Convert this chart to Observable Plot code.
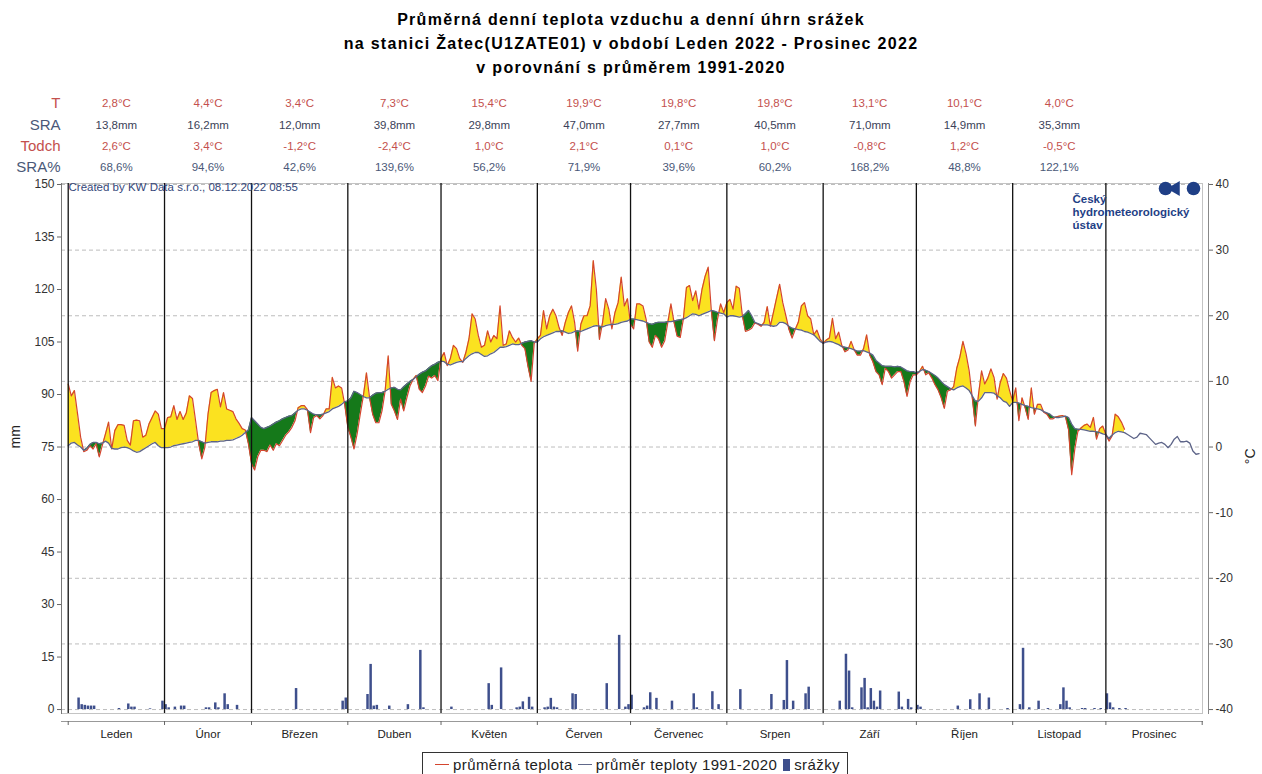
<!DOCTYPE html>
<html>
<head>
<meta charset="utf-8">
<script src="https://cdn.jsdelivr.net/npm/d3@7"></script>
<script src="https://cdn.jsdelivr.net/npm/@observablehq/plot@0.6"></script>
<style>
  body { margin: 0; background: #fff; font-family: "Liberation Sans", Arial, sans-serif; }
  #wrap { position: relative; width: 1262px; height: 774px; overflow: hidden; background: #fff; }
  #title { height: 86px; box-sizing: border-box; padding-top: 8px; text-align: center; font-weight: bold; font-size: 16px; line-height: 24px; letter-spacing: 1.3px; color: #000; }
  #legend { position: absolute; left: 422px; top: 752px; width: 426px; height: 25px; border: 1px solid #333; box-sizing: border-box; display: flex; align-items: center; justify-content: center; font-size: 15px; letter-spacing: 0.4px; color: #222; background: #fff; white-space: nowrap; }
  #legend .ln { display: inline-block; width: 14px; height: 1.5px; margin: 0 4px 0 5px; }
  #legend .sq { display: inline-block; width: 7px; height: 12px; background: #3e4f8c; margin: 0 4px 0 6px; }
  g[aria-label="month-names"] text { letter-spacing: 1.4px; }
  g[aria-label="stat-values"] text { letter-spacing: 0.9px; }
  g[aria-label="row-labels"] text { letter-spacing: 0.5px; }
  g[aria-label="credit"] text { letter-spacing: 0.9px; }
  g[aria-label="logo-text"] text { letter-spacing: 0.4px; }
</style>
</head>
<body>
<div id="wrap">
  <div id="title">Průměrná denní teplota vzduchu a denní úhrn srážek<br>na stanici Žatec(U1ZATE01) v období Leden 2022 - Prosinec 2022<br>v porovnání s průměrem 1991-2020</div>
  <div id="chart"></div>
  <div id="legend"><span class="ln" style="background:#d4452e"></span><span>průměrná teplota</span><span class="ln" style="background:#60688a"></span><span>průměr teploty 1991-2020</span><span class="sq"></span><span>srážky</span></div>
</div>
<script>
// ---------- data ----------
const months = ["Leden","Únor","Březen","Duben","Květen","Červen","Červenec","Srpen","Září","Říjen","Listopad","Prosinec"];
const monthDays = [31,28,31,30,31,30,31,31,30,31,30,31];

const rowLabels = ["T","SRA","Todch","SRA%"];
const statT     = ["2,8°C","4,4°C","3,4°C","7,3°C","15,4°C","19,9°C","19,8°C","19,8°C","13,1°C","10,1°C","4,0°C",""];
const statSRA   = ["13,8mm","16,2mm","12,0mm","39,8mm","29,8mm","47,0mm","27,7mm","40,5mm","71,0mm","14,9mm","35,3mm",""];
const statTodch = ["2,6°C","3,4°C","-1,2°C","-2,4°C","1,0°C","2,1°C","0,1°C","1,0°C","-0,8°C","1,2°C","-0,5°C",""];
const statSRAp  = ["68,6%","94,6%","42,6%","139,6%","56,2%","71,9%","39,6%","60,2%","168,2%","48,8%","122,1%",""];

// daily mean temperature 2022 (°C)
const tJan = [9.6,7.8,8.6,5.1,1.5,-0.7,-0.5,0.2,-0.3,0.5,-1.5,0.3,2.0,3.8,-0.3,2.5,3.4,3.4,3.3,1.0,0.3,4.0,4.1,4.0,1.5,1.8,3.5,4.5,5.5,5.0,2.8];
const tFeb = [2.8,4.5,4.6,6.3,4.2,5.4,4.2,5.2,7.8,7.4,4.0,0.5,-1.8,0.0,5.0,8.3,8.6,8.8,6.1,8.3,5.8,5.6,5.4,4.3,3.6,2.8,2.6,0.5];
const tMar = [-2.5,-3.5,-1.5,-0.5,-0.5,-0.7,0.3,-0.5,0.5,0.2,1.0,1.8,2.3,3.0,4.0,6.0,6.3,6.3,5.7,2.2,4.5,4.8,4.3,4.8,5.8,5.8,10.6,9.0,9.3,9.0,6.5];
const tApr = [3.0,1.5,-0.3,2.0,5.0,7.8,11.3,7.5,5.0,3.7,3.7,5.5,8.5,13.9,6.5,5.5,4.2,7.3,5.5,7.5,9.3,10.3,10.9,8.8,8.3,9.3,10.8,10.5,10.9,10.1];
const tMay = [13.5,14.4,12.4,13.5,15.5,15.0,13.5,12.9,14.4,16.5,20.3,19.5,17.0,15.2,15.5,17.7,16.0,17.0,16.5,21.5,15.5,15.7,17.7,16.7,16.0,16.6,15.5,15.0,12.3,10.0,15.8];
const tJun = [16.5,17.0,20.8,18.0,20.0,21.0,20.0,18.2,17.0,19.0,20.5,21.5,19.0,14.6,18.7,20.0,20.0,21.5,28.4,24.0,16.4,19.0,22.6,21.0,18.0,20.5,22.0,25.9,21.5,22.6];
const tJul = [18.7,18.0,21.8,21.8,21.5,19.5,16.0,15.2,17.0,16.5,15.2,16.2,19.0,21.8,19.0,16.9,16.7,19.5,24.3,24.6,22.3,23.8,21.0,24.0,26.0,27.4,20.8,16.2,19.5,21.8,20.5];
const tAug = [22.0,22.5,21.0,24.5,24.2,20.0,17.6,17.8,18.1,18.9,18.7,18.4,19.0,21.4,18.4,20.5,22.7,24.8,22.0,20.0,17.9,16.6,17.9,19.0,21.5,22.0,20.0,19.5,17.1,17.8,16.5];
const tSep = [15.8,16.3,16.6,19.6,16.5,17.5,15.5,14.5,14.8,16.1,14.8,14.0,14.0,15.0,17.1,14.0,13.0,11.5,11.0,9.5,12.0,11.5,10.5,11.0,11.5,11.5,10.0,7.7,10.0,11.0];
const tOct = [11.0,11.5,12.3,11.0,11.3,10.5,9.5,8.7,7.5,5.9,8.5,8.7,9.2,12.0,13.7,16.1,14.2,11.6,7.5,3.2,8.0,11.6,9.6,10.5,11.9,10.6,7.3,9.8,11.2,10.5,8.6];
const tNov = [7.0,9.0,4.0,7.5,6.0,4.2,9.0,5.0,6.5,6.5,5.3,5.0,4.3,4.3,4.6,4.7,4.8,4.6,2.6,-4.2,-0.3,2.4,2.9,3.3,3.5,3.0,4.5,1.2,2.8,3.2];
const tDec = [1.9,0.9,1.7,5.0,4.6,3.8,2.7];

// daily normal temperature 1991-2020 (°C)
const nJan = [0.2,0.6,0.7,0.3,0.0,-0.5,-0.2,0.4,0.7,0.7,0.5,0.6,0.9,0.6,-0.2,-0.3,-0.3,-0.1,0.0,-0.1,-0.3,-0.6,-0.8,-0.7,-0.4,-0.1,0.2,0.5,0.7,0.2,-0.1];
const nFeb = [-0.1,-0.1,0.0,0.2,0.3,0.4,0.5,0.6,0.7,0.8,1.0,1.0,0.8,0.6,0.7,0.8,0.8,0.8,0.9,0.9,1.0,1.0,1.1,1.3,1.5,1.8,2.2,2.6];
const nMar = [4.5,4.0,3.5,3.0,2.8,3.0,3.2,3.5,3.8,4.0,4.3,4.5,4.7,4.8,5.2,5.6,5.8,5.8,5.6,5.3,5.0,4.9,4.9,5.0,5.2,5.4,5.8,6.0,6.2,6.5,6.9];
const nApr = [7.0,7.5,8.5,8.3,8.0,7.7,7.5,7.5,7.9,8.2,8.3,8.3,8.5,8.8,9.0,9.1,8.8,8.7,9.2,9.6,10.0,10.3,10.7,11.1,11.4,11.6,12.0,12.4,12.6,12.9];
const nMay = [13.1,13.0,12.6,12.5,12.7,12.9,13.0,13.0,13.5,13.9,14.2,14.4,14.4,14.1,13.8,13.9,14.2,14.4,14.8,15.2,15.2,15.3,15.5,15.7,15.6,15.6,15.8,16.0,16.1,16.2,16.0];
const nJun = [16.0,16.5,16.8,17.0,17.2,17.4,17.6,17.6,17.7,17.5,17.3,17.4,17.6,17.7,17.6,17.8,18.0,18.2,18.4,18.5,18.4,18.3,18.5,18.6,18.7,18.7,18.8,19.0,19.1,19.2];
const nJul = [19.5,19.5,19.4,19.3,19.2,19.0,18.8,18.7,18.9,19.0,19.0,19.0,19.1,19.1,19.2,19.3,19.4,19.5,19.7,20.0,20.3,20.2,20.0,20.2,20.4,20.6,20.8,20.7,20.5,20.4,20.3];
const nAug = [19.8,20.0,20.0,19.9,19.8,19.9,20.3,20.8,20.0,19.0,18.8,18.6,18.6,18.6,18.5,18.4,18.5,19.0,19.0,18.8,18.4,18.1,18.0,17.9,17.8,17.6,17.5,17.3,17.1,16.6,16.1];
const nSep = [15.8,16.0,16.1,16.0,15.8,15.6,15.3,15.2,15.1,15.0,14.8,14.6,14.6,14.7,14.5,14.3,14.0,13.2,12.8,12.4,12.3,12.3,12.3,12.2,12.3,12.2,11.9,11.6,11.5,11.5];
const nOct = [11.3,11.5,11.8,11.7,11.5,11.2,10.9,10.5,10.0,9.5,9.2,8.9,8.7,9.0,9.2,9.3,9.0,8.6,7.8,7.0,7.0,7.5,8.3,8.3,8.3,8.2,7.8,7.5,7.0,6.8,6.2];
const nNov = [6.8,6.8,6.7,6.5,6.3,6.2,6.0,5.9,5.8,5.7,5.4,5.2,5.0,4.6,4.5,4.5,4.6,4.7,4.5,3.5,2.8,2.7,2.7,2.6,2.5,2.4,2.4,2.3,2.2,2.0];
const nDec = [1.9,1.3,1.8,2.2,2.4,2.3,2.2,1.9,1.6,1.3,1.5,2.1,2.0,1.9,1.4,0.9,0.4,0.6,0.7,0.4,-0.1,0.4,1.2,1.6,0.8,0.8,0.9,0.6,-0.6,-1.1,-1.0];

// daily precipitation (month, day, mm)
const rain = [
  [1,4,3.3],[1,5,1.4],[1,6,1.2],[1,7,1.0],[1,8,1.0],[1,9,1.0],[1,17,0.3],[1,20,1.6],[1,21,0.7],[1,22,0.7],[1,27,0.2],[1,31,2.4],
  [2,1,1.4],[2,2,0.5],[2,4,0.7],[2,6,1.0],[2,7,1.0],[2,14,0.5],[2,15,0.5],[2,17,1.9],[2,18,0.5],[2,20,4.5],[2,21,1.4],[2,24,1.2],
  [3,15,6.0],[3,30,2.4],[3,31,3.3],
  [4,7,4.3],[4,8,12.9],[4,9,1.0],[4,10,1.2],[4,14,1.0],[4,20,1.4],[4,24,16.9],[4,25,0.5],
  [5,4,0.7],[5,16,7.4],[5,17,1.2],[5,20,11.9],[5,25,0.5],[5,26,0.7],[5,27,2.2],[5,29,3.5],[5,30,0.7],
  [6,3,0.5],[6,4,0.7],[6,5,3.2],[6,6,0.7],[6,7,0.5],[6,12,4.5],[6,13,4.3],[6,23,7.4],[6,27,21.2],[6,29,0.7],[6,30,1.4],
  [7,1,4.1],[7,5,0.5],[7,6,1.0],[7,7,4.8],[7,9,3.2],[7,14,2.4],[7,21,4.5],[7,22,0.5],[7,27,5.1],[7,29,1.4],
  [8,5,5.7],[8,15,4.3],[8,19,2.6],[8,20,14.0],[8,22,2.4],[8,26,4.5],[8,27,6.4],
  [9,6,2.4],[9,8,15.8],[9,9,11.0],[9,10,0.5],[9,13,6.2],[9,14,8.9],[9,15,0.5],[9,16,6.0],[9,17,2.4],[9,18,0.7],[9,19,5.3],[9,25,5.0],[9,26,0.7],[9,28,2.9],[9,29,0.5],
  [10,1,1.2],[10,2,0.7],[10,14,1.0],[10,18,2.8],[10,21,4.5],[10,24,3.3],[10,30,0.3],
  [11,3,1.4],[11,4,17.5],[11,6,0.5],[11,9,2.4],[11,12,0.3],[11,16,1.4],[11,17,6.2],[11,18,2.4],[11,19,0.5],[11,23,0.3],[11,24,0.3],[11,27,0.3],[11,29,0.3],
  [12,1,4.5],[12,2,1.9],[12,3,0.5],[12,5,0.3],[12,7,0.3]
];

const mmTicks = [0,15,30,45,60,75,90,105,120,135,150];
const tempTicks = [-40,-30,-20,-10,0,10,20,30,40];

// ---------- derived ----------
const actualByMonth = [tJan,tFeb,tMar,tApr,tMay,tJun,tJul,tAug,tSep,tOct,tNov,tDec];
const normalByMonth = [nJan,nFeb,nMar,nApr,nMay,nJun,nJul,nAug,nSep,nOct,nNov,nDec];
const monthStart = [];
{ let s = 0; for (const d of monthDays) { monthStart.push(s); s += d; } }
const boundaries = [...monthStart, 365];

const mmToT = mm => mm * 80 / 150 - 40;   // left axis (mm) shares the °C scale: 0 mm = -40 °C, 150 mm = 40 °C

const actual = [], normal = [];
monthStart.forEach((s, m) => {
  normalByMonth[m].forEach((v, d) => normal.push({x: s + d, y: v}));
  actualByMonth[m].forEach((v, d) => actual.push({x: s + d, y: v}));
});

// points for the difference areas, with crossings inserted
const pts = [];
for (let i = 0; i < actual.length; i++) {
  const a = actual[i].y, n = normal[i].y, x = actual[i].x;
  if (i > 0) {
    const a0 = actual[i - 1].y, n0 = normal[i - 1].y;
    const d0 = a0 - n0, d1 = a - n;
    if (d0 * d1 < 0) {
      const t = d0 / (d0 - d1);
      const yc = n0 + t * (n - n0);
      pts.push({x: actual[i - 1].x + t * (x - actual[i - 1].x), a: yc, n: yc});
    }
  }
  pts.push({x, a, n});
}

const rainData = rain.map(([m, d, mm]) => ({x: monthStart[m - 1] + d - 1, mm}));

const monthInfo = months.map((name, i) => ({
  name, mid: monthStart[i] + monthDays[i] / 2,
  T: statT[i], SRA: statSRA[i], Todch: statTodch[i], SRAp: statSRAp[i]
}));

const red = "#c4504d", slate = "#4a5878";
const navy = "#1f3f86";
const rowDy = [-80, -58, -37, -16];
const rowColor = [red, slate, red, slate];
const valueColor = [red, "#3b4258", red, slate];
const valueKey = ["T", "SRA", "Todch", "SRAp"];

const plot = Plot.plot({
  width: 1262,
  height: 666,
  marginLeft: 61,
  marginRight: 60,
  marginTop: 97,
  marginBottom: 39,
  style: {background: "white", fontFamily: "Liberation Sans, Arial, sans-serif", fontSize: "12px", overflow: "visible"},
  x: {domain: [-2.16, 365.1], axis: null},
  y: {domain: [-40.6, 40.15], axis: null},
  marks: [
    Plot.frame({stroke: "#c4c4c4"}),
    Plot.gridY({ticks: tempTicks, stroke: "#bdbdbd", strokeOpacity: 1, strokeDasharray: "4 3"}),
    // precipitation bars
    Plot.rect(rainData, {x1: d => d.x + 0.1, x2: d => d.x + 0.9, y1: d => mmToT(0), y2: d => mmToT(d.mm), fill: "#3e4f8c"}),
    // difference areas
    Plot.areaY(pts, {x: "x", y1: "n", y2: p => Math.max(p.a, p.n), fill: "#fbe220", curve: "linear"}),
    Plot.areaY(pts, {x: "x", y1: "n", y2: p => Math.min(p.a, p.n), fill: "#15791a", curve: "linear"}),
    Plot.line(actual, {x: "x", y: "y", stroke: "#d4452e", strokeWidth: 1.2}),
    Plot.line(normal, {x: "x", y: "y", stroke: "#5d6488", strokeWidth: 1.3}),
    // month separators
    Plot.ruleX(monthStart, {stroke: "#111", strokeWidth: 1.3}),
    // axes
    Plot.frame({anchor: "left", stroke: "#777"}),
    Plot.axisY({anchor: "left", ticks: mmTicks.map(mmToT), tickFormat: t => String(Math.round((t + 40) * 150 / 80)), tickSize: 4, tickPadding: 3, fontSize: 12, stroke: "#666", fill: "#333"}),
    Plot.frame({anchor: "right", dx: 6, stroke: "#888"}),
    Plot.axisY({anchor: "right", ticks: tempTicks, tickFormat: d => String(d), tickSize: 4, tickPadding: 3, dx: 6, fontSize: 12, stroke: "#666", fill: "#333"}),
    Plot.frame({anchor: "bottom", dy: 8, stroke: "#999"}),
    Plot.axisX({anchor: "bottom", ticks: boundaries, tickFormat: () => "", tickSize: 4, dy: 8, stroke: "#666"}),
    Plot.text(monthInfo, {x: "mid", text: "name", frameAnchor: "bottom", lineAnchor: "middle", dy: 21, fontSize: 11.5, fill: "#222", ariaLabel: "month-names"}),
    Plot.text(["mm"], {frameAnchor: "left", dx: -46, rotate: -90, text: d => d, fontSize: 14, fill: "#222"}),
    Plot.text(["°C"], {frameAnchor: "right", dx: 48, rotate: -90, text: d => d, fontSize: 14, fill: "#222"}),
    // header table: row labels and monthly values
    ...rowLabels.map((label, r) =>
      Plot.text([label], {frameAnchor: "top-left", lineAnchor: "middle", textAnchor: "end", dx: -1, dy: rowDy[r], text: d => d, fontSize: 15, fill: rowColor[r], ariaLabel: "row-labels"})),
    ...valueKey.map((key, r) =>
      Plot.text(monthInfo, {x: "mid", text: key, frameAnchor: "top", lineAnchor: "middle", dy: rowDy[r], fontSize: 11.5, fill: valueColor[r], ariaLabel: "stat-values"})),
    // credits and logo
    Plot.text(["Created by KW Data s.r.o., 08.12.2022 08:55"], {frameAnchor: "top-left", lineAnchor: "middle", dx: 7, dy: 4, textAnchor: "start", text: d => d, fontSize: 11.5, fill: "#34477a", ariaLabel: "credit"}),
    Plot.dot([0], {frameAnchor: "top-right", dx: -37, dy: 5, r: 6.8, fill: navy, stroke: "none"}),
    Plot.dot([0], {frameAnchor: "top-right", dx: -27, dy: 5, r: 5.5, symbol: "triangle", rotate: -90, fill: navy, stroke: "none"}),
    Plot.dot([0], {frameAnchor: "top-right", dx: -9, dy: 5, r: 6.8, fill: navy, stroke: "none"}),
    Plot.text(["Český\nhydrometeorologický\nústav"], {frameAnchor: "top-right", dx: -130, dy: 11, textAnchor: "start", lineAnchor: "top", lineHeight: 1.1, text: d => d, fontSize: 11.5, fontWeight: "bold", fill: navy, ariaLabel: "logo-text"})
  ]
});
document.getElementById("chart").append(plot);
</script>
</body>
</html>
